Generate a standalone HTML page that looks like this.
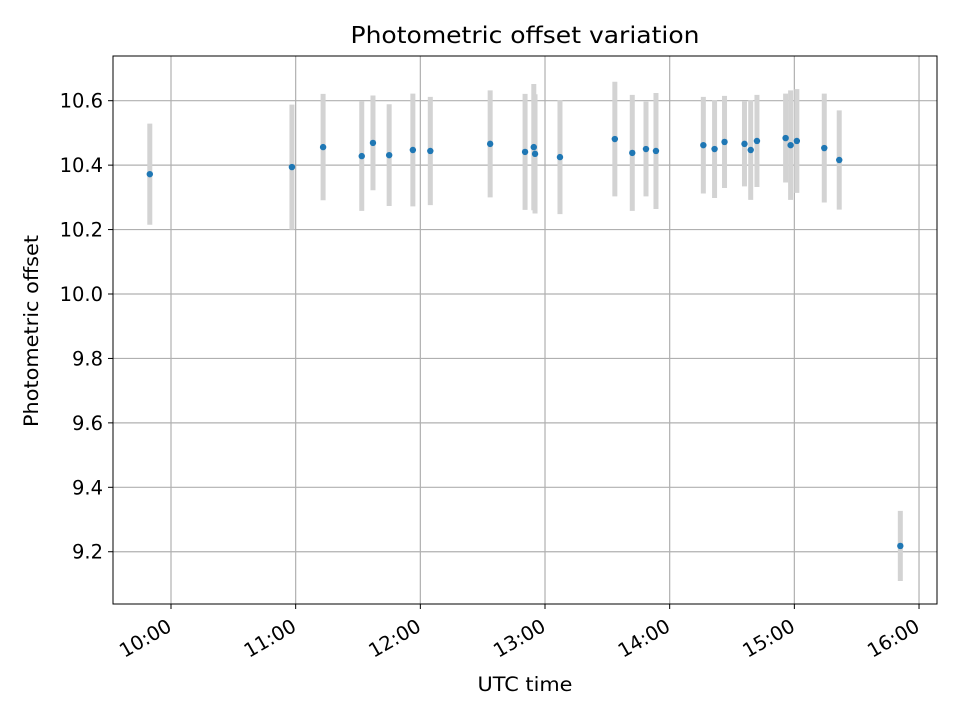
<!DOCTYPE html>
<html><head><meta charset="utf-8"><style>
body{margin:0;background:#fff;}
svg text{font-family:"DejaVu Sans","Liberation Sans",sans-serif;fill:#000;}
</style></head><body>
<svg id="chart" width="960" height="720" xmlns="http://www.w3.org/2000/svg">
<rect width="960" height="720" fill="#fff"/>
<g id="grid"></g>
<g id="errs"></g>
<g id="pts"></g>
<rect x="113" y="56" width="824" height="548" fill="none" stroke="#000" stroke-width="1"/>
<g id="xt"></g>
<g id="yt"></g>
<text x="525" y="43" font-size="23" text-anchor="middle" textLength="349" lengthAdjust="spacingAndGlyphs">Photometric offset variation</text>
<text x="525" y="691" font-size="19.5" text-anchor="middle" textLength="95" lengthAdjust="spacingAndGlyphs">UTC time</text>
<text x="38" y="331" font-size="19.5" text-anchor="middle" textLength="192" lengthAdjust="spacingAndGlyphs" transform="rotate(-90 38 331)">Photometric offset</text>
</svg>
<script>
const hours=[9.83,10.97,11.22,11.53,11.62,11.75,11.94,12.08,12.56,12.84,12.91,12.92,13.12,13.56,13.70,13.81,13.89,14.27,14.36,14.44,14.60,14.65,14.70,14.93,14.97,15.02,15.24,15.36,15.85];
const offsets=[10.372,10.394,10.456,10.428,10.469,10.431,10.447,10.444,10.466,10.441,10.456,10.435,10.425,10.481,10.438,10.45,10.444,10.462,10.45,10.472,10.466,10.447,10.475,10.484,10.462,10.475,10.453,10.416,9.218];
const errors=[0.157,0.194,0.165,0.17,0.147,0.158,0.175,0.168,0.166,0.18,0.196,0.185,0.177,0.178,0.18,0.147,0.18,0.15,0.152,0.143,0.132,0.155,0.143,0.138,0.17,0.161,0.169,0.154,0.109];
const xTickHours=[10,11,12,13,14,15,16];
const xTickLabels=["10:00","11:00","12:00","13:00","14:00","15:00","16:00"];
const yTicks=[9.2,9.4,9.6,9.8,10.0,10.2,10.4,10.6];
const L=113,R=937,T=56,B=604;
const xs=h=>171+(h-10)*124.67;
const ys=v=>294-(v-10)*322.17;
const NS="http://www.w3.org/2000/svg";
function mk(tag,attrs,parent){const e=document.createElementNS(NS,tag);for(const k in attrs)e.setAttribute(k,attrs[k]);document.getElementById(parent).appendChild(e);return e;}
xTickHours.forEach((h,i)=>{
  const x=xs(h);
  const g=mk('line',{x1:x,x2:x,y1:T,y2:B,stroke:'#b0b0b0','stroke-width':1.2},'grid');
  
  
  const t=mk('line',{x1:x,x2:x,y1:B,y2:B+5,stroke:'#000'},'xt');
  
  
  const ax=x+2, ay=B+26;
  const lb=mk('text',{x:ax,y:ay,'font-size':19.5,'text-anchor':'end',transform:`rotate(-30 ${ax} ${ay})`},'xt');
  lb.textContent=xTickLabels[i];
  
  
});
yTicks.forEach(v=>{
  const y=ys(v);
  const g=mk('line',{x1:L,x2:R,y1:y,y2:y,stroke:'#b0b0b0','stroke-width':1.2},'grid');
  
  
  const t=mk('line',{x1:L-5,x2:L,y1:y,y2:y,stroke:'#000'},'yt');
  
  
  const lb=mk('text',{x:L-10,y:y+7,'font-size':19.5,'text-anchor':'end'},'yt');
  lb.textContent=v.toFixed(1);
  
  
});
hours.forEach((h,i)=>{
  const x=xs(h);
  const e=mk('line',{x1:x,x2:x,y1:ys(offsets[i]+errors[i]),y2:ys(offsets[i]-errors[i]),stroke:'#d3d3d3','stroke-width':5},'errs');
  
  
  const c=mk('circle',{cx:x,cy:ys(offsets[i]),r:3.2,fill:'#1f77b4'},'pts');
  
  
});
</script>
</body></html>
